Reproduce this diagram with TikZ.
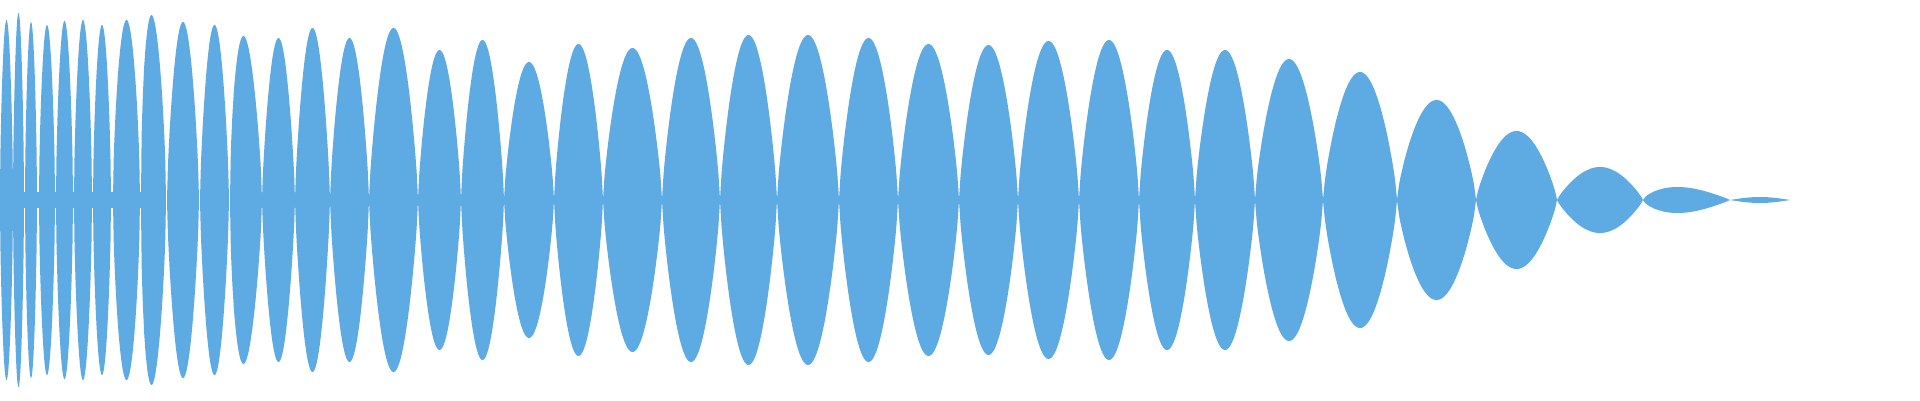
\documentclass[tikz,border=0pt]{standalone}
\definecolor{wave}{RGB}{93,171,226}
\begin{document}
\begin{tikzpicture}[x=1pt,y=1pt]
\useasboundingbox (0,0) rectangle (1920,400);
\fill[wave] (0,192) rectangle (166,208);
\foreach \a/\b/\h/\p/\q in {0/13/180/1/0.6, 13/24/187/1/0.6, 25/37/178/1/0.6, 39/55/175/1/0.6, 56/73/179/1/0.6, 74/92/180/1/0.6, 93/111/175/1/0.6, 113/140/180/1/0.6, 141/166/185/0.8/0.6, 167/199/178/1/0.7, 200/229/175/1/0.7, 230/262/164/0.8/0.7,
262/295/162/1/0.75, 295/330/172/1/0.75, 330/369/162/1/0.75, 369/418/172/1/0.75, 418/461/150/1/0.75, 461/504/160/1/0.75, 504/554/138/1/0.75, 554/603/156/1/0.75, 603/662/152/1/0.75, 662/720/162/1/0.75, 720/777/165/1/0.75, 777/839/165/1/0.75, 839/898/162/1/0.75, 898/959/156/1/0.75, 959/1018/155/1/0.75, 1018/1079/159/1/0.75, 1079/1139/160/1/0.75, 1139/1195/150/1/0.75, 1195/1255/150/1/0.75, 1255/1323/141/1/0.75, 1323/1397/128/1/0.75, 1397/1476/100/1/0.75, 1476/1557/69/1/0.8, 1557/1643/33/1/0.85, 1643/1730/13/0.75/0.9, 1730/1790/3/1/1}{
  \fill[wave] plot[domain=0:1,samples=40,smooth] ({\a+(\b-\a)*\x},{200+\h*abs(sin(180*(\x^\p)))^\q})
    -- plot[domain=1:0,samples=40,smooth] ({\a+(\b-\a)*\x},{200-\h*abs(sin(180*(\x^\p)))^\q}) -- cycle;
}
\end{tikzpicture}
\end{document}
